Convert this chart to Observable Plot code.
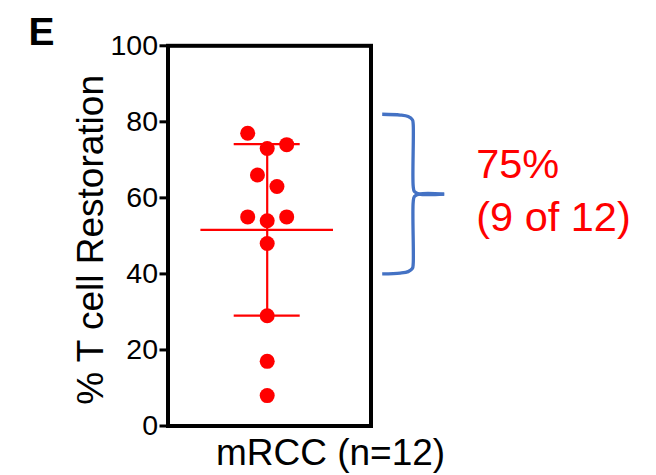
<!DOCTYPE html>
<html><head><meta charset="utf-8">
<script src="https://cdn.jsdelivr.net/npm/d3@7"></script>
<script src="https://cdn.jsdelivr.net/npm/@observablehq/plot@0.6"></script>
<style>body{margin:0;background:#fff}</style>
</head><body><div id="chart"></div>
<script>
// ---- data ----
const panelLabel = "E";
const groupLabels = ["mRCC (n=12)"];
const yLabel = "% T cell Restoration";
const values = [77, 74, 73, 66, 63, 55, 55, 54, 48, 29, 17, 8];
const yTicks = [0, 20, 40, 60, 80, 100];
const responderThreshold = 40;
const braceRange = [40, 82];

// ---- layout constants ----
const W = 656, H = 475;
const mL = 167.5, mR = 285.5, mT = 45.3, mB = 49.5;
const pxPerUnit = (H - mT - mB) / 100;
const red = "#ff0000", blue = "#4472C4";
const spacing = 19.5;

// beeswarm (Prism-like rows)
const sorted = values.map(v => v).sort((a, b) => b - a);
const rows = []; let cur = [];
for (const v of sorted) {
  if (cur.length && cur[cur.length - 1] - v > 5) { rows.push(cur); cur = []; }
  cur.push(v);
}
rows.push(cur);
const points = [];
for (const row of rows) {
  const n = row.length;
  const slots = d3.range(n).map(k => k - (n - 1) / 2)
    .sort((a, b) => Math.abs(b) - Math.abs(a) || a - b);
  row.forEach((v, j) => points.push({value: v, offset: slots[j] * spacing}));
}

const mean = d3.mean(values);
const sd = d3.deviation(values);
const nResp = values.filter(v => v >= responderThreshold).length;
const annot = [`${Math.round(100 * nResp / values.length)}%`, `(${nResp} of ${values.length})`];

// brace
const yTop = braceRange[1], yBot = braceRange[0], yMid = (yTop + yBot) / 2;
const halfPx = (yTop - yBot) * pxPerUnit / 2;
const halfShape = [[115, 0], [133, 0.8], [141, 2.3], [145.2, 5.5], [146, 10], [146, halfPx - 8], [147.2, halfPx - 2.5], [152, halfPx], [177, halfPx]];
const brace = [];
for (const [sign, y0, z] of [[1, yTop, "top"], [-1, yBot, "bot"]]) {
  for (const [dx, dyPx] of halfShape) brace.push({x: dx, y: y0 - sign * dyPx / pxPerUnit, z});
}

const font = "'Liberation Sans', Arial, Helvetica, sans-serif";

const plot = Plot.plot({
  width: W, height: H,
  marginLeft: mL, marginRight: mR, marginTop: mT, marginBottom: mB,
  style: {fontFamily: font, background: "white", color: "black"},
  x: {domain: [-99.2, 103.8], axis: null},
  y: {domain: [0, 100], axis: null},
  marks: [
    Plot.frame({stroke: "black", strokeWidth: 4}),
    Plot.axisY({ticks: yTicks, tickSize: 8, tickPadding: 2, fontSize: 28.5, strokeWidth: 3, label: null, anchor: "left"}),
    Plot.ruleY([mean], {x1: -66.3, x2: 66.3, stroke: red, strokeWidth: 2.2}),
    Plot.ruleX([0], {y1: mean - sd, y2: mean + sd, stroke: red, strokeWidth: 2.2}),
    Plot.ruleY([mean - sd, mean + sd], {x1: -33, x2: 33, stroke: red, strokeWidth: 2.2}),
    Plot.dot(points, {x: "offset", y: "value", r: 7.5, fill: red, stroke: null}),
    Plot.line(brace, {x: "x", y: "y", z: "z", stroke: blue, strokeWidth: 3.3, curve: "catmull-rom", strokeLinecap: "butt"}),
    Plot.text([annot[0]], {x: () => 209, y: () => yMid, dy: -16, text: d => d, textAnchor: "start", lineAnchor: "bottom", fill: red, fontSize: 41.5}),
    Plot.text([annot[1]], {x: () => 209, y: () => yMid, dy: 36.7, text: d => d, textAnchor: "start", lineAnchor: "bottom", fill: red, fontSize: 41.5}),
    Plot.text(groupLabels, {x: () => 63.3, frameAnchor: "bottom", dy: 38.5, text: d => d, textAnchor: "middle", lineAnchor: "bottom", fontSize: 37, fill: "black"}),
    Plot.text([yLabel], {frameAnchor: "left", dx: 102 - mL, dy: 4, rotate: -90, text: d => d, textAnchor: "middle", lineAnchor: "bottom", fontSize: 37, fill: "black"}),
    Plot.text([panelLabel], {frameAnchor: "top-left", dx: 28 - mL, dy: -1, text: d => d, textAnchor: "start", lineAnchor: "bottom", fontSize: 39, fontWeight: "bold", fill: "black"})
  ]
});
document.getElementById("chart").appendChild(plot);
</script>
</body></html>
